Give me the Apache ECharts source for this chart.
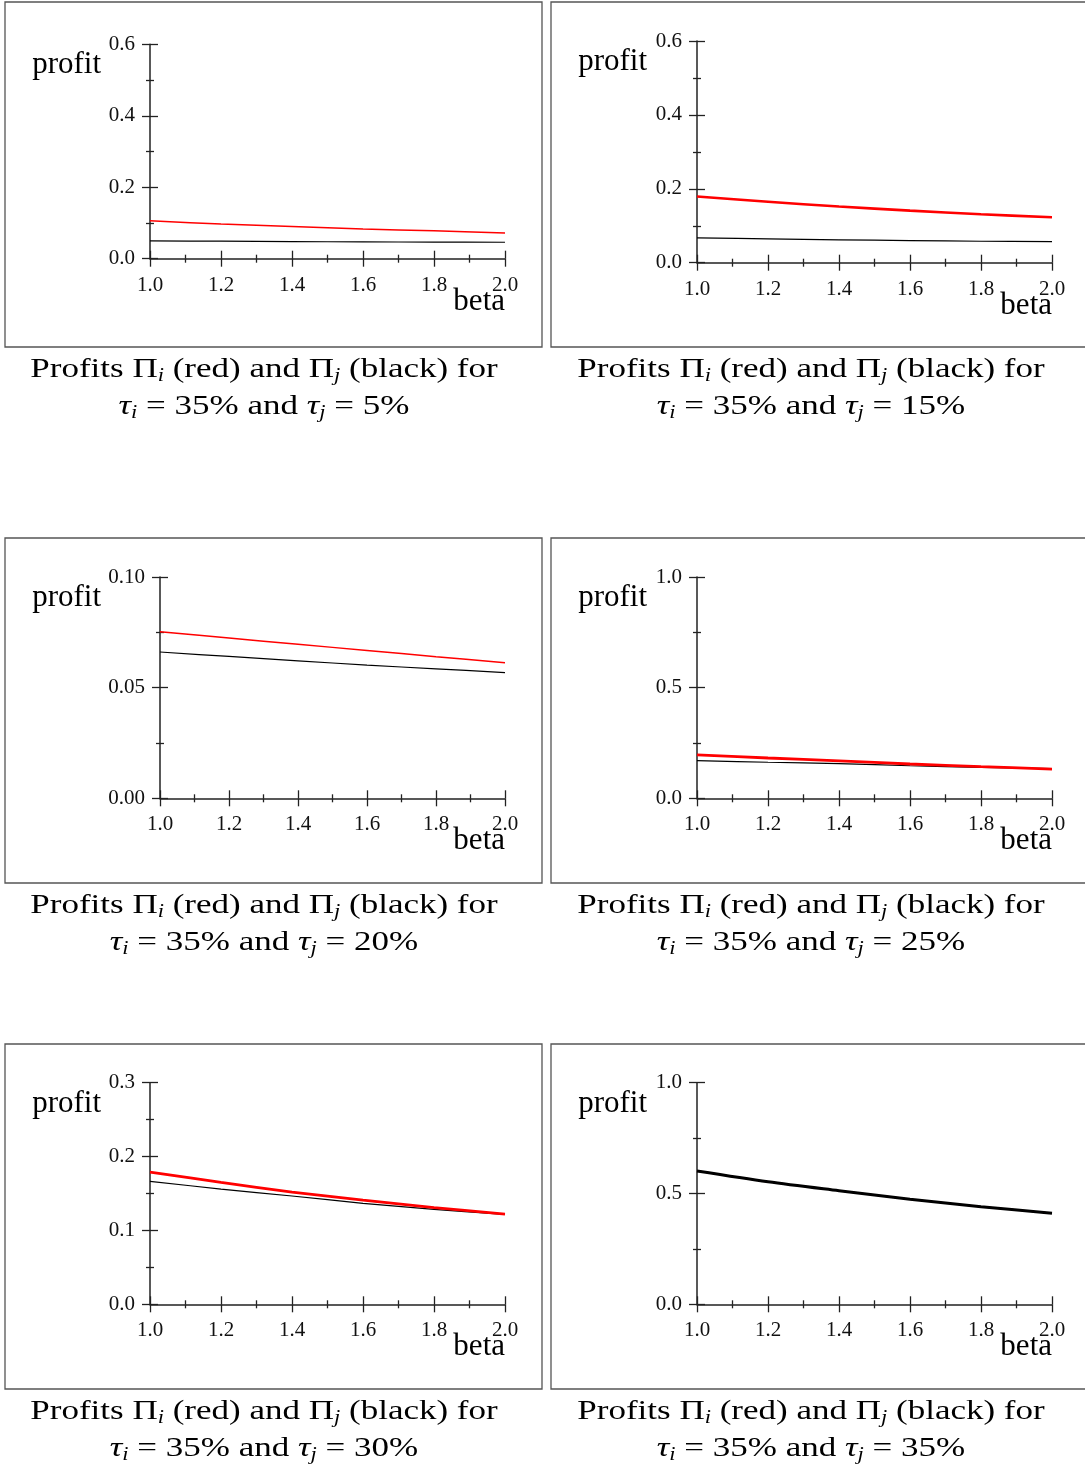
<!DOCTYPE html>
<html>
<head>
<meta charset="utf-8">
<script src="https://cdn.jsdelivr.net/npm/echarts@6/dist/echarts.min.js"></script>
<style>
html,body{margin:0;padding:0;background:#fff;}
#c{width:1085px;height:1467px;}
</style>
</head>
<body>
<div id="c"></div>
<script>
// ---- data ----
const beta = [1.0, 1.2, 1.4, 1.6, 1.8, 2.0];
const tauI = '35%';
const tauJ = ['5%', '15%', '20%', '25%', '30%', '35%'];
const xTickLabels = ['1.0', '1.2', '1.4', '1.6', '1.8', '2.0'];
const yMax = [0.6, 0.6, 0.10, 1.0, 0.3, 1.0];
const yStep = [0.2, 0.2, 0.05, 0.5, 0.1, 0.5];
const yDecimals = [1, 1, 2, 1, 1, 1];

const redP1 = [0.106, 0.097, 0.090, 0.083, 0.078, 0.072];
const blackP1 = [0.050, 0.049, 0.048, 0.047, 0.0465, 0.046];
const redP2 = [0.179, 0.165, 0.152, 0.141, 0.131, 0.123];
const blackP2 = [0.067, 0.0645, 0.062, 0.060, 0.058, 0.057];
const redP3 = [0.0753, 0.0724, 0.0696, 0.0668, 0.0640, 0.0613];
const blackP3 = [0.0661, 0.0641, 0.0621, 0.0602, 0.0585, 0.0568];
const redP4 = [0.196, 0.182, 0.169, 0.155, 0.143, 0.132];
const blackP4 = [0.170, 0.163, 0.157, 0.147, 0.140, 0.134];
const redP5 = [0.179, 0.165, 0.152, 0.141, 0.131, 0.122];
const blackP5 = [0.1665, 0.156, 0.1466, 0.1367, 0.1286, 0.1218];
const redP6 = [0.6015, 0.553, 0.5127, 0.474, 0.4406, 0.4107];
const blackP6 = [0.6015, 0.553, 0.5127, 0.474, 0.4406, 0.4107];

const reds = [redP1, redP2, redP3, redP4, redP5, redP6];
const blacks = [blackP1, blackP2, blackP3, blackP4, blackP5, blackP6];

// ---- layout / style ----
const layout = [
  { box: [5, 2, 537, 345],     grid: [150, 44.3, 355, 214.4],   capX: 264 },
  { box: [551, 2, 538, 345],   grid: [697, 41, 355, 221.7],     capX: 811 },
  { box: [5, 538, 537, 345],   grid: [160, 577, 345, 221.3],    capX: 264 },
  { box: [551, 538, 538, 345], grid: [697, 577, 355, 221.3],    capX: 811 },
  { box: [5, 1044, 537, 345],  grid: [150, 1082.7, 355, 221.6], capX: 264 },
  { box: [551, 1044, 538, 345],grid: [697, 1082.7, 355, 221.6], capX: 811 }
];
const redWidth = [1.5, 2.6, 1.5, 2.8, 2.8, 1.5];
const blackWidth = [1.2, 1.2, 1.2, 1.2, 1.2, 3.0];
const blackOnTop = [false, false, false, false, false, true];

const SERIF = '"Liberation Serif", "Times New Roman", serif';
const AX = '#222';

const grids = [], xAxes = [], yAxes = [], series = [], graphics = [];

layout.forEach((p, i) => {
  const [gl, gt, gw, gh] = p.grid;
  grids.push({ left: gl, top: gt, width: gw, height: gh, containLabel: false, outerBoundsMode: 'none' });

  const tickStyle = { color: AX, width: 1.3 };
  xAxes.push({
    type: 'value', gridIndex: i, position: 'bottom', min: 1, max: 2, interval: 0.2,
    axisLine: { show: true, onZero: false, lineStyle: { color: AX, width: 1.5 } },
    axisTick: { show: true, inside: false, length: 8, lineStyle: tickStyle },
    minorTick: { show: true, splitNumber: 2, length: 4, lineStyle: tickStyle },
    splitLine: { show: false }, minorSplitLine: { show: false },
    axisLabel: {
      show: true, margin: 16, fontFamily: SERIF, fontSize: 21, color: '#111',
      showMinLabel: true, showMaxLabel: true, hideOverlap: false,
      formatter: v => xTickLabels[Math.round((v - 1) / 0.2)]
    }
  });
  xAxes.push({
    type: 'value', gridIndex: i, position: 'bottom', min: 1, max: 2, interval: 0.2,
    axisLine: { show: false, onZero: false },
    axisTick: { show: true, inside: true, length: 8, lineStyle: tickStyle },
    minorTick: { show: true, splitNumber: 2, length: 4, lineStyle: tickStyle },
    splitLine: { show: false }, minorSplitLine: { show: false },
    axisLabel: { show: false }
  });
  yAxes.push({
    type: 'value', gridIndex: i, position: 'left', min: 0, max: yMax[i], interval: yStep[i],
    axisLine: { show: true, onZero: false, lineStyle: { color: AX, width: 1.5 } },
    axisTick: { show: true, inside: false, length: 8, lineStyle: tickStyle },
    minorTick: { show: true, splitNumber: 2, length: 4, lineStyle: tickStyle },
    splitLine: { show: false }, minorSplitLine: { show: false },
    axisLabel: {
      show: true, margin: 15, fontFamily: SERIF, fontSize: 21, color: '#111',
      showMinLabel: true, showMaxLabel: true, hideOverlap: false,
      formatter: v => v.toFixed(yDecimals[i])
    }
  });
  yAxes.push({
    type: 'value', gridIndex: i, position: 'left', min: 0, max: yMax[i], interval: yStep[i],
    axisLine: { show: false, onZero: false },
    axisTick: { show: true, inside: true, length: 8, lineStyle: tickStyle },
    minorTick: { show: true, splitNumber: 2, length: 4, lineStyle: tickStyle },
    splitLine: { show: false }, minorSplitLine: { show: false },
    axisLabel: { show: false }
  });

  const red = {
    type: 'line', name: 'Π_i', xAxisIndex: 2 * i, yAxisIndex: 2 * i,
    data: beta.map((b, k) => [b, reds[i][k]]), showSymbol: false, smooth: 0.3,
    lineStyle: { color: '#ff0000', width: redWidth[i] }, itemStyle: { color: '#ff0000' },
    z: blackOnTop[i] ? 2 : 3
  };
  const black = {
    type: 'line', name: 'Π_j', xAxisIndex: 2 * i, yAxisIndex: 2 * i,
    data: beta.map((b, k) => [b, blacks[i][k]]), showSymbol: false, smooth: 0.3,
    lineStyle: { color: '#000000', width: blackWidth[i] }, itemStyle: { color: '#000' },
    z: blackOnTop[i] ? 3 : 2
  };
  series.push(red, black);

  const [bx, by, bw, bh] = p.box;
  graphics.push({
    type: 'rect', shape: { x: bx, y: by, width: bw, height: bh },
    style: { fill: 'none', stroke: '#555', lineWidth: 1.3 }, silent: true
  });
  graphics.push({
    type: 'text', x: bx + 96, y: gt + 21,
    style: { text: 'profit', font: '31px ' + SERIF, fill: '#000', align: 'right', verticalAlign: 'middle' }
  });
  graphics.push({
    type: 'text', x: gl + gw, y: gt + gh + 43,
    style: { text: 'beta', font: '31px ' + SERIF, fill: '#000', align: 'right', verticalAlign: 'middle' }
  });

  // caption (two lines), stretched horizontally to the wide Computer Modern metrics
  graphics.push({
    type: 'text', x: p.capX, y: by + bh + 4, scaleX: 1.25, scaleY: 1,
    style: {
      text: 'Profits Π{s|i} (red) and Π{s|j} (black) for\n{m|τ}{s|i} = ' + tauI +
            ' and {m|τ}{s|j} = ' + tauJ[i],
      fontFamily: SERIF, fontSize: 28, fill: '#000', lineHeight: 37,
      align: 'center', verticalAlign: 'top',
      rich: {
        s: { fontFamily: SERIF, fontSize: 18, fontStyle: 'italic', fill: '#000', padding: [13, 0, 0, 0], lineHeight: 22 },
        m: { fontFamily: SERIF, fontSize: 28, fontStyle: 'italic', fill: '#000', lineHeight: 37 }
      }
    },
    silent: true
  });
});

const chart = echarts.init(document.getElementById('c'), null, { renderer: 'canvas' });
chart.setOption({
  backgroundColor: '#fff',
  animation: false,
  grid: grids,
  xAxis: xAxes,
  yAxis: yAxes,
  series: series,
  graphic: graphics
});
</script>
</body>
</html>
